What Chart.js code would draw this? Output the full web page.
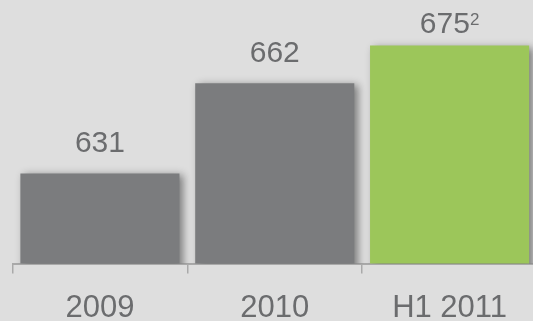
<!DOCTYPE html>
<html>
<head>
<meta charset="utf-8">
<script src="https://cdn.jsdelivr.net/npm/chart.js@4"></script>
<style>
  html, body { margin: 0; padding: 0; background: #dedede; overflow: hidden; }
  #wrap { position: relative; width: 537px; height: 321px; }
</style>
</head>
<body>
<div id="wrap"><canvas id="chart" width="537" height="321"></canvas></div>
<script>
// Dados do gráfico
const categorias = ['2009', '2010', 'H1 2011'];
const valores = [631, 662, 675];
const notas = ['', '', '2'];           // nota de rodapé sobrescrita
const coresBarras = ['#7b7c7e', '#7b7c7e', '#9cc65a'];

const corTexto = '#6b6c6e';
const corEixo = '#a9a9a9';
const fonte = '"Liberation Sans", Arial, sans-serif';

// Sombra suave atrás das barras
const sombraBarras = {
  id: 'sombraBarras',
  beforeDatasetsDraw(chart) {
    const ctx = chart.ctx;
    ctx.save();
    ctx.shadowColor = 'rgba(0,0,0,0.45)';
    ctx.shadowBlur = 8;
    ctx.shadowOffsetX = 4;
    ctx.shadowOffsetY = 2;
  },
  afterDatasetsDraw(chart) {
    chart.ctx.restore();
  }
};

// Rótulos de valor acima das barras
const rotulosValor = {
  id: 'rotulosValor',
  afterDatasetsDraw(chart) {
    const ctx = chart.ctx;
    const gaps = [21, 21, 13];
    chart.getDatasetMeta(0).data.forEach((bar, i) => {
      const txt = String(valores[i]);
      const sup = notas[i];
      ctx.save();
      ctx.fillStyle = corTexto;
      ctx.textBaseline = 'alphabetic';
      ctx.font = '30px ' + fonte;
      const w = ctx.measureText(txt).width;
      ctx.font = '17px ' + fonte;
      const ws = sup ? ctx.measureText(sup).width : 0;
      const x0 = bar.x - (w + ws) / 2;
      const y = bar.y - gaps[i];
      ctx.font = '30px ' + fonte;
      ctx.textAlign = 'left';
      ctx.fillText(txt, x0, y);
      if (sup) {
        ctx.font = '17px ' + fonte;
        ctx.fillText(sup, x0 + w, y - 8);
      }
      ctx.restore();
    });
  }
};

new Chart(document.getElementById('chart'), {
  type: 'bar',
  data: {
    labels: categorias,
    datasets: [{
      data: valores,
      backgroundColor: coresBarras,
      borderWidth: 0,
      categoryPercentage: 1,
      barPercentage: 0.91
    }]
  },
  options: {
    responsive: false,
    animation: false,
    layout: { padding: { left: 12.5, right: 0, top: 2, bottom: 0 } },
    plugins: { legend: { display: false }, tooltip: { enabled: false } },
    scales: {
      y: { display: false, min: 600, max: 690 },
      x: {
        afterFit(scale) { scale.height = 57.5; },
        border: { display: true, color: corEixo, width: 2 },
        grid: {
          offset: true,
          drawOnChartArea: false,
          drawTicks: true,
          tickLength: 10,
          color: corEixo,
          lineWidth: 1.5
        },
        ticks: {
          color: corTexto,
          padding: 16,
          font: { size: 31, family: fonte }
        }
      }
    }
  },
  plugins: [sombraBarras, rotulosValor]
});
</script>
</body>
</html>
